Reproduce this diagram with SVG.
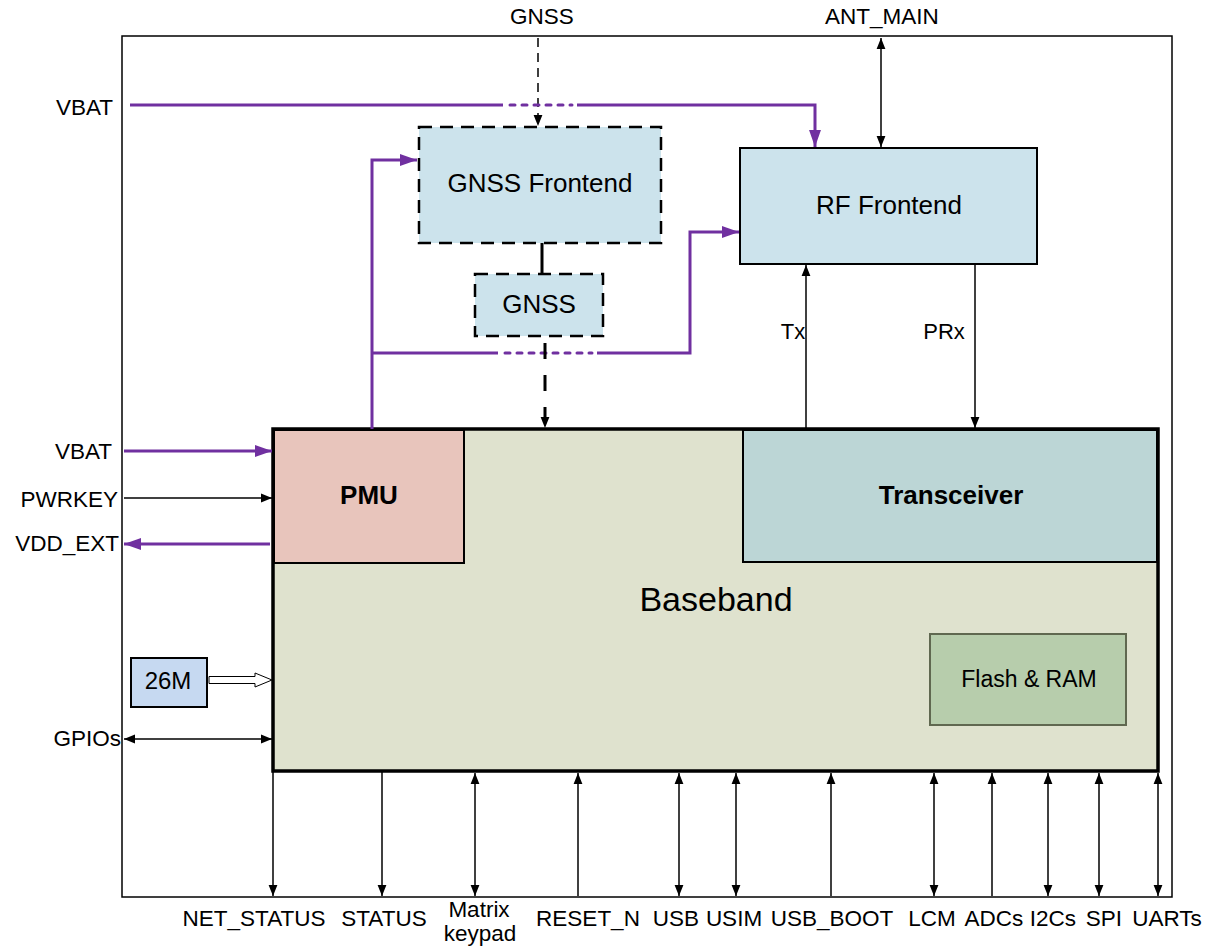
<svg xmlns="http://www.w3.org/2000/svg" width="1210" height="948" viewBox="0 0 1210 948">
<defs>
<style>
text{font-family:"Liberation Sans",Arial,sans-serif;fill:#000}
.lbl{font-size:22.5px}
.blk{stroke:#000;stroke-width:1.5;fill:none}
.pur{stroke:#7030a0;stroke-width:3;fill:none}
.purd{stroke:#7030a0;stroke-width:3;fill:none;stroke-dasharray:5 7;stroke-linecap:round}
</style>
<marker id="ab" viewBox="0 0 10 10" refX="10" refY="5" markerWidth="11" markerHeight="11" markerUnits="userSpaceOnUse" orient="auto-start-reverse"><path d="M0,1 L10,5 L0,9 z" fill="#000"/></marker>
<marker id="ap" viewBox="0 0 10 10" refX="10" refY="5" markerWidth="17" markerHeight="17" markerUnits="userSpaceOnUse" orient="auto-start-reverse"><path d="M0,1.5 L10,5 L0,8.5 z" fill="#7030a0"/></marker>
</defs>
<rect width="1210" height="948" fill="#fff"/>
<rect x="122" y="36" width="1050" height="861" fill="none" stroke="#000" stroke-width="1.5"/>

<g id="baseband">
<rect x="273" y="429" width="885" height="342" fill="#dfe2ce" stroke="#000" stroke-width="3.5"/>
<text x="716" y="611" font-size="34" text-anchor="middle">Baseband</text>
</g>
<g id="pmu">
<rect x="274" y="430" width="190" height="133" fill="#e8c5bc" stroke="#000" stroke-width="2"/>
<text x="369" y="504" font-size="26" font-weight="bold" text-anchor="middle">PMU</text>
</g>
<g id="transceiver">
<rect x="743" y="430" width="414" height="132" fill="#bcd6d6" stroke="#000" stroke-width="2"/>
<text x="951" y="504" font-size="26" font-weight="bold" text-anchor="middle">Transceiver</text>
</g>
<g id="flash">
<rect x="930" y="634" width="196" height="91" fill="#b7cdac" stroke="#606850" stroke-width="2"/>
<text x="1029" y="687" font-size="23" text-anchor="middle">Flash &amp; RAM</text>
</g>
<g id="gnss-frontend">
<rect x="419" y="127" width="242" height="116" fill="#cce3ec" stroke="#000" stroke-width="2.5" stroke-dasharray="13 8"/>
<text x="540" y="192" font-size="26" text-anchor="middle">GNSS Frontend</text>
</g>
<g id="gnss">
<rect x="475" y="274" width="128" height="62" fill="#cce3ec" stroke="#000" stroke-width="2.5" stroke-dasharray="13 8"/>
<text x="539" y="313" font-size="26" text-anchor="middle">GNSS</text>
</g>
<g id="rf-frontend">
<rect x="740" y="148" width="297" height="116" fill="#cce3ec" stroke="#000" stroke-width="2"/>
<text x="889" y="214" font-size="26" text-anchor="middle">RF Frontend</text>
</g>
<g id="osc">
<rect x="131" y="658" width="76" height="49" fill="#c6d9f1" stroke="#000" stroke-width="2"/>
<text x="168" y="689" font-size="24" text-anchor="middle">26M</text>
</g>

<g id="connectors">
<!-- GNSS antenna -->
<line x1="538" y1="38" x2="538" y2="126" class="blk" stroke-dasharray="9 6" marker-end="url(#ab)"/>
<!-- ANT_MAIN -->
<line x1="881" y1="38" x2="881" y2="147" class="blk" marker-start="url(#ab)" marker-end="url(#ab)"/>
<!-- VBAT top -->
<path d="M130,105 H503" class="pur"/>
<path d="M510,105 H572" class="purd"/>
<path d="M577,105 H815 V147" class="pur" marker-end="url(#ap)"/>
<!-- PMU to GNSS frontend -->
<path d="M372,429 V160 H417" class="pur" marker-end="url(#ap)"/>
<!-- PMU to RF frontend -->
<path d="M372,353 H498" class="pur"/>
<path d="M505,353 H592" class="purd"/>
<path d="M597,353 H690 V232 H739" class="pur" marker-end="url(#ap)"/>
<!-- GNSS FE to GNSS -->
<line x1="542" y1="243" x2="542" y2="274" stroke="#000" stroke-width="3"/>
<!-- GNSS to baseband -->
<line x1="545" y1="343" x2="545" y2="428" stroke="#000" stroke-width="3" stroke-dasharray="16 16" marker-end="url(#ab)"/>
<!-- Tx / PRx -->
<line x1="806" y1="428" x2="806" y2="265" class="blk" marker-end="url(#ab)"/>
<line x1="975" y1="265" x2="975" y2="428" class="blk" marker-end="url(#ab)"/>
<text x="793" y="339" font-size="22" text-anchor="middle">Tx</text>
<text x="944" y="339" font-size="22" text-anchor="middle">PRx</text>
<!-- left side -->
<line x1="124" y1="451" x2="272" y2="451" class="pur" marker-end="url(#ap)"/>
<line x1="124" y1="498" x2="272" y2="498" class="blk" marker-end="url(#ab)"/>
<line x1="270" y1="544" x2="124" y2="544" class="pur" marker-end="url(#ap)"/>
<line x1="124" y1="739" x2="272" y2="739" class="blk" marker-start="url(#ab)" marker-end="url(#ab)"/>
<path d="M209,676.5 H255 V673 L272,680 L255,687 V683.5 H209 z" fill="#fff" stroke="#000" stroke-width="1"/>
<!-- bottom -->
<line x1="273" y1="772" x2="273" y2="896" class="blk" marker-end="url(#ab)"/>
<line x1="382" y1="772" x2="382" y2="896" class="blk" marker-end="url(#ab)"/>
<line x1="475" y1="773" x2="475" y2="896" class="blk" marker-start="url(#ab)" marker-end="url(#ab)"/>
<line x1="578" y1="896" x2="578" y2="773" class="blk" marker-end="url(#ab)"/>
<line x1="679" y1="773" x2="679" y2="896" class="blk" marker-start="url(#ab)" marker-end="url(#ab)"/>
<line x1="736" y1="773" x2="736" y2="896" class="blk" marker-start="url(#ab)" marker-end="url(#ab)"/>
<line x1="831" y1="896" x2="831" y2="773" class="blk" marker-end="url(#ab)"/>
<line x1="934" y1="773" x2="934" y2="896" class="blk" marker-start="url(#ab)" marker-end="url(#ab)"/>
<line x1="992" y1="896" x2="992" y2="773" class="blk" marker-end="url(#ab)"/>
<line x1="1048" y1="773" x2="1048" y2="896" class="blk" marker-start="url(#ab)" marker-end="url(#ab)"/>
<line x1="1099" y1="773" x2="1099" y2="896" class="blk" marker-start="url(#ab)" marker-end="url(#ab)"/>
<line x1="1158" y1="773" x2="1158" y2="896" class="blk" marker-start="url(#ab)" marker-end="url(#ab)"/>
</g>

<g id="labels">
<text x="542" y="24" class="lbl" text-anchor="middle">GNSS</text>
<text x="882" y="24" class="lbl" text-anchor="middle">ANT_MAIN</text>
<text x="113" y="115" class="lbl" text-anchor="end">VBAT</text>
<text x="112" y="459" class="lbl" text-anchor="end">VBAT</text>
<text x="118" y="507" class="lbl" text-anchor="end">PWRKEY</text>
<text x="119" y="551" class="lbl" text-anchor="end">VDD_EXT</text>
<text x="121" y="746" class="lbl" text-anchor="end">GPIOs</text>
<text x="254" y="926" class="lbl" text-anchor="middle">NET_STATUS</text>
<text x="384" y="926" class="lbl" text-anchor="middle">STATUS</text>
<text x="479" y="917" class="lbl" text-anchor="middle">Matrix</text>
<text x="480" y="941" class="lbl" text-anchor="middle">keypad</text>
<text x="588" y="926" class="lbl" text-anchor="middle">RESET_N</text>
<text x="676" y="926" class="lbl" text-anchor="middle">USB</text>
<text x="734" y="926" class="lbl" text-anchor="middle">USIM</text>
<text x="832" y="926" class="lbl" text-anchor="middle">USB_BOOT</text>
<text x="932" y="926" class="lbl" text-anchor="middle">LCM</text>
<text x="994" y="926" class="lbl" text-anchor="middle">ADCs</text>
<text x="1053" y="926" class="lbl" text-anchor="middle">I2Cs</text>
<text x="1104" y="926" class="lbl" text-anchor="middle">SPI</text>
<text x="1167" y="926" class="lbl" text-anchor="middle">UARTs</text>
</g>
</svg>
